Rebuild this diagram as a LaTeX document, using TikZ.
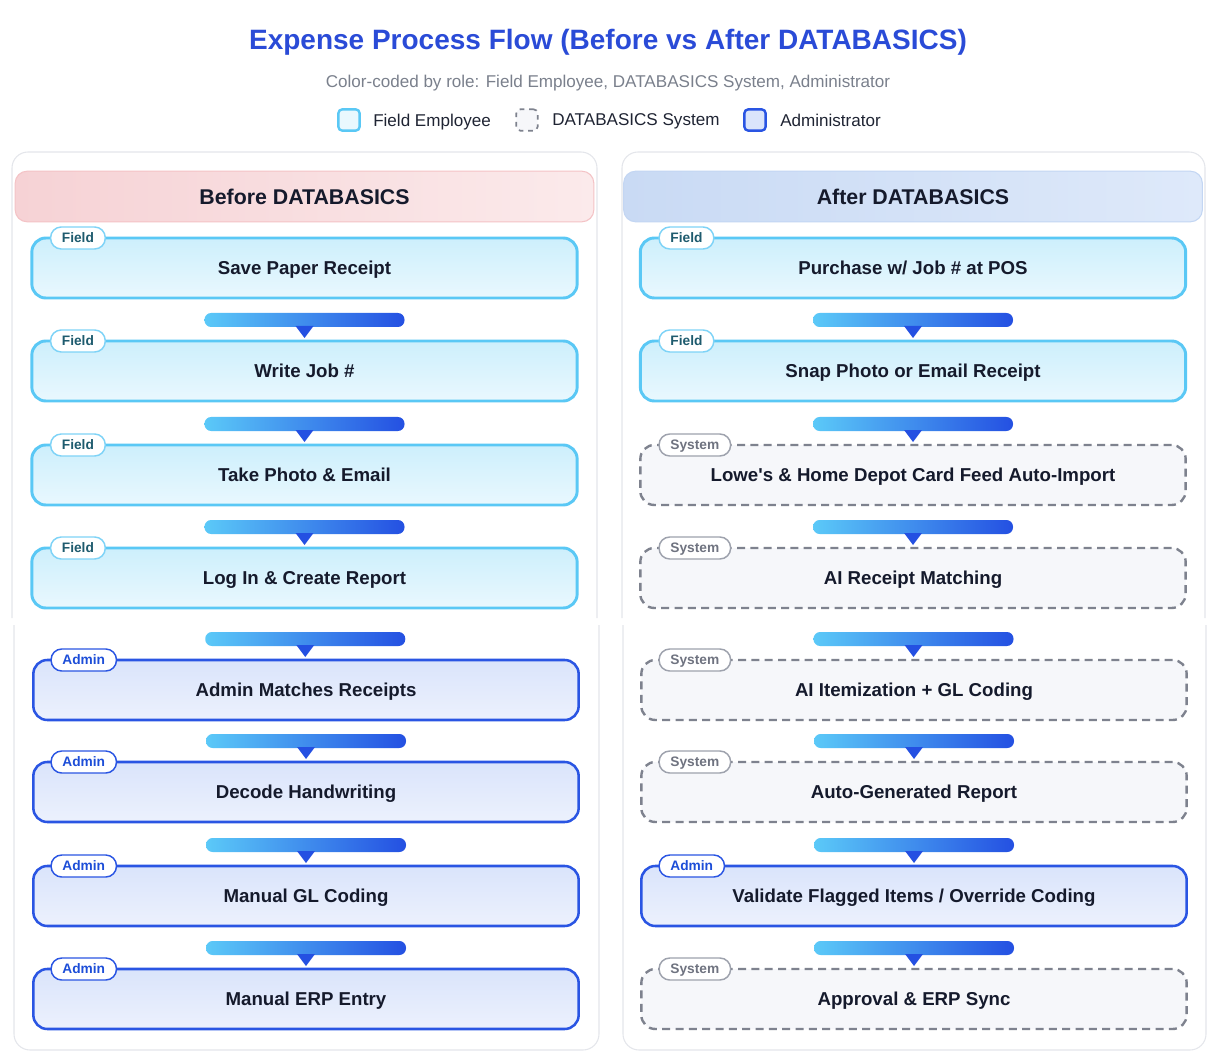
\documentclass[tikz,border=0pt]{standalone}
\usepackage{fontspec}
\setmainfont{Liberation Sans}
\usetikzlibrary{calc}

\definecolor{titleblue}{HTML}{2A4BD7}
\definecolor{subgray}{HTML}{7A808C}
\definecolor{legendink}{HTML}{1F2433}
\definecolor{inkdark}{HTML}{151A2C}
\definecolor{panelline}{HTML}{E4E6EB}
\definecolor{fieldline}{HTML}{5AC8F5}
\definecolor{fieldtop}{HTML}{CDEFFC}
\definecolor{fieldbot}{HTML}{E9F8FE}
\definecolor{fieldtagline}{HTML}{7ED3F7}
\definecolor{fieldtext}{HTML}{1E5B6E}
\definecolor{adminline}{HTML}{2A55E3}
\definecolor{admintop}{HTML}{DAE4FB}
\definecolor{adminbot}{HTML}{ECF1FD}
\definecolor{admintext}{HTML}{1D4ED8}
\definecolor{sysline}{HTML}{7E828E}
\definecolor{sysfill}{HTML}{F6F7FA}
\definecolor{systagline}{HTML}{9EA2AD}
\definecolor{systext}{HTML}{6F7380}
\definecolor{beforeleft}{HTML}{F6D2D5}
\definecolor{beforeright}{HTML}{FBEAEB}
\definecolor{beforeline}{HTML}{F4C3C6}
\definecolor{afterleft}{HTML}{C9DAF4}
\definecolor{afterright}{HTML}{DEE9FA}
\definecolor{afterline}{HTML}{C3D6F3}
\definecolor{barleft}{HTML}{5BC9F8}
\definecolor{barright}{HTML}{2450E2}

\tikzset{
  stepbox/.style={rounded corners=10.5pt, minimum width=409pt, minimum height=45pt, outer sep=0pt,
    align=center, text=inkdark, text depth=0pt, font=\fontsize{14}{17}\selectfont\bfseries},
  fieldbox/.style={stepbox, draw=fieldline, line width=2.2pt, top color=fieldtop, bottom color=fieldbot},
  adminbox/.style={stepbox, draw=adminline, line width=1.9pt, top color=admintop, bottom color=adminbot},
  sysbox/.style={stepbox, draw=sysline, line width=1.8pt, dash pattern=on 6pt off 4pt, fill=sysfill},
  tag/.style={anchor=west, rounded corners=8pt, fill=white, line width=1.1pt, minimum height=16.5pt,
    inner xsep=8.5pt, inner ysep=0pt, text depth=0pt, font=\fontsize{10.3}{12}\selectfont\bfseries},
  fieldtag/.style={tag, draw=fieldtagline, text=fieldtext},
  admintag/.style={tag, draw=adminline, text=admintext},
  systag/.style={tag, draw=systagline, text=systext},
  panel/.style={draw=panelline, line width=0.8pt, fill=white, rounded corners=12pt},
  header/.style={minimum width=434pt, minimum height=38pt, rounded corners=9pt, line width=0.8pt,
    text=inkdark, text depth=0pt, font=\fontsize{16}{19}\selectfont\bfseries},
  legbox/.style={minimum size=16pt, rounded corners=3pt, line width=1.8pt, inner sep=0pt},
  legtext/.style={anchor=west, inner xsep=0pt, text=legendink, text depth=0pt, font=\fontsize{12.8}{15}\selectfont},
}

% gradient bar with a down triangle from box #1 to box #2
\newcommand{\flowlink}[2]{
  \coordinate (m) at ($(#1.south)!0.5!(#2.north)$);
  \coordinate (t) at ($(m |- #2.north)+(0,-3)$);
  \shade[left color=barleft, right color=barright, rounded corners=5pt]
    ($(t)+(-100,-25)$) rectangle ($(t)+(100,-11)$);
  \fill[barright] ($(t)+(-9,-12)$) -- ($(t)+(9,-12)$) -- (t) -- cycle;
}

\begin{document}
\begin{tikzpicture}[x=0.75pt, y=-0.75pt]
    \useasboundingbox (0,0) rectangle (1210,1062);

    % title and legend
    \node [text=titleblue, text depth=0pt, font=\fontsize{21}{25}\selectfont\bfseries] (title) at (608,39)
        {Expense Process Flow (Before vs After DATABASICS)};
    \node [text=subgray, text depth=0pt, font=\fontsize{12.8}{15}\selectfont] (subtitle) at (608,81)
        {Color-coded by role: Field Employee, DATABASICS System, Administrator};
    \node [legbox, draw=fieldline, fill=fieldbot] (kfield) at (349,120) {};
    \node [legtext] (kfieldt) at (373,120) {Field Employee};
    \node [legbox, draw=sysline, dash pattern=on 3.5pt off 3.5pt, line width=1.3pt, fill=sysfill] (ksys) at (527,120) {};
    \node [legtext] (ksyst) at (552,120) {DATABASICS System};
    \node [legbox, draw=adminline, fill=admintop] (kadmin) at (755,120) {};
    \node [legtext] (kadmint) at (780,120) {Administrator};

    % panels
    \draw [panel] (12,618) -- (12,152) -- (597,152) -- (597,618);
    \draw [panel] (14,625) -- (14,1050) -- (599,1050) -- (599,625);
    \draw [panel] (622,618) -- (622,152) -- (1205,152) -- (1205,618);
    \draw [panel] (623,625) -- (623,1050) -- (1206,1050) -- (1206,625);

    \node [header, draw=beforeline, left color=beforeleft, right color=beforeright] (hb) at (304.5,196.5) {Before DATABASICS};
    \node [header, draw=afterline, left color=afterleft, right color=afterright] (ha) at (913,196.5) {After DATABASICS};

    % before
    \node [fieldbox] (b1) at (304.5,268) {Save Paper Receipt};
    \node [fieldbox] (b2) at (304.5,371) {Write Job \#};
    \node [fieldbox] (b3) at (304.5,475) {Take Photo \& Email};
    \node [fieldbox] (b4) at (304.5,578) {Log In \& Create Report};
    \node [adminbox] (b5) at (306,690) {Admin Matches Receipts};
    \node [adminbox] (b6) at (306,792) {Decode Handwriting};
    \node [adminbox] (b7) at (306,896) {Manual GL Coding};
    \node [adminbox] (b8) at (306,999) {Manual ERP Entry};

    % after
    \node [fieldbox] (a1) at (913,268) {Purchase w/ Job \# at POS};
    \node [fieldbox] (a2) at (913,371) {Snap Photo or Email Receipt};
    \node [sysbox] (a3) at (913,475) {Lowe\textquotesingle s \& Home Depot Card Feed Auto-Import};
    \node [sysbox] (a4) at (913,578) {AI Receipt Matching};
    \node [sysbox] (a5) at (914,690) {AI Itemization + GL Coding};
    \node [sysbox] (a6) at (914,792) {Auto-Generated Report};
    \node [adminbox] (a7) at (914,896) {Validate Flagged Items / Override Coding};
    \node [sysbox] (a8) at (914,999) {Approval \& ERP Sync};

    \flowlink{b1}{b2} \flowlink{b2}{b3} \flowlink{b3}{b4} \flowlink{b4}{b5}
    \flowlink{b5}{b6} \flowlink{b6}{b7} \flowlink{b7}{b8}
    \flowlink{a1}{a2} \flowlink{a2}{a3} \flowlink{a3}{a4} \flowlink{a4}{a5}
    \flowlink{a5}{a6} \flowlink{a6}{a7} \flowlink{a7}{a8}

    % role tags
    \node [fieldtag] (b1t) at ($(b1.north west)+(18,0)$) {Field};
    \node [fieldtag] (b2t) at ($(b2.north west)+(18,0)$) {Field};
    \node [fieldtag] (b3t) at ($(b3.north west)+(18,0)$) {Field};
    \node [fieldtag] (b4t) at ($(b4.north west)+(18,0)$) {Field};
    \node [admintag] (b5t) at ($(b5.north west)+(17,0)$) {Admin};
    \node [admintag] (b6t) at ($(b6.north west)+(17,0)$) {Admin};
    \node [admintag] (b7t) at ($(b7.north west)+(17,0)$) {Admin};
    \node [admintag] (b8t) at ($(b8.north west)+(17,0)$) {Admin};
    \node [fieldtag] (a1t) at ($(a1.north west)+(18,0)$) {Field};
    \node [fieldtag] (a2t) at ($(a2.north west)+(18,0)$) {Field};
    \node [systag] (a3t) at ($(a3.north west)+(18,0)$) {System};
    \node [systag] (a4t) at ($(a4.north west)+(18,0)$) {System};
    \node [systag] (a5t) at ($(a5.north west)+(17,0)$) {System};
    \node [systag] (a6t) at ($(a6.north west)+(17,0)$) {System};
    \node [admintag] (a7t) at ($(a7.north west)+(17,0)$) {Admin};
    \node [systag] (a8t) at ($(a8.north west)+(17,0)$) {System};
\end{tikzpicture}
\end{document}
